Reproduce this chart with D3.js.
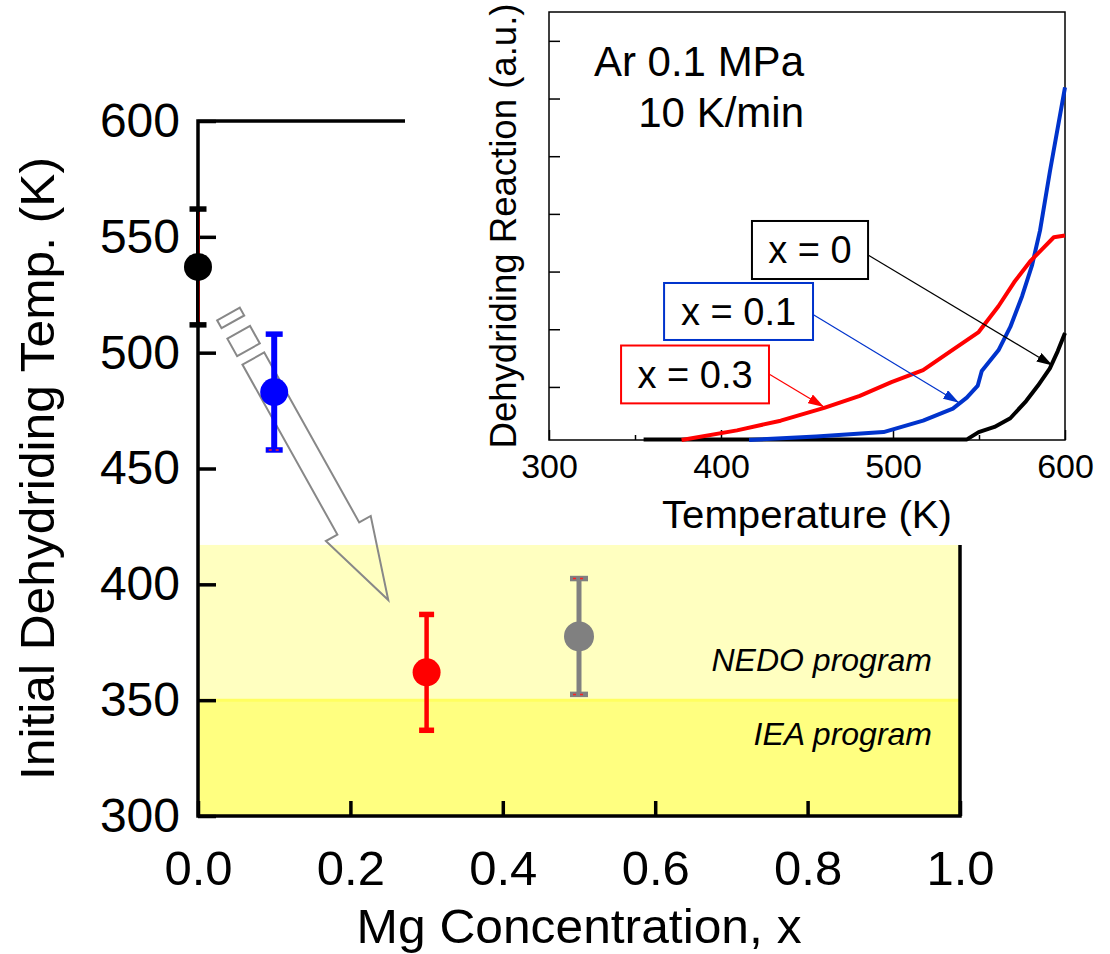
<!DOCTYPE html>
<html><head><meta charset="utf-8">
<script src="https://cdn.jsdelivr.net/npm/d3@7"></script>
<style>
html,body{margin:0;padding:0;background:#fff;}
svg{display:block;font-family:"Liberation Sans",Arial,Helvetica,sans-serif;}
</style></head><body>
<svg id="chart" width="1110" height="954"></svg>
<script>
// ---- Main panel: initial dehydriding temperature vs Mg content ----
const mgContent = [0, 0.1, 0.3, 0.5];
const onsetTemp = [537, 483, 362, 377.5];
const onsetErr = [25, 25, 25, 25];
const pointColors = ["#000000", "#0000ff", "#ff0000", "#808080"];
const tempTicks = [300, 350, 400, 450, 500, 550, 600];
const mgTicks = [0, 0.2, 0.4, 0.6, 0.8, 1.0];

// Target temperature bands
const bandNames = ["IEA program", "NEDO program"];
const bandLow = [300, 350];
const bandHigh = [350, 417];
const bandColors = ["#ffff80", "#ffffc0"];
const bandCaptionTemp = [330.6, 362.6];

// Trend arrow (Mg content, temperature)
const trendFrom = [0.04, 516.7];
const trendTo = [0.2497, 393.2];

// ---- Inset: dehydriding curves, Ar 0.1 MPa, 10 K/min ----
const insetSeries = ["x = 0", "x = 0.1", "x = 0.3"];
const insetColors = ["#000000", "#0033cc", "#ff0000"];
const curveT0 = [355, 543, 549.8, 559, 568.2, 577.4, 584.3, 591.2, 595.8, 600];
const curveR0 = [0.09, 0.09, 0.217, 0.307, 0.457, 0.755, 1.024, 1.323, 1.622, 1.933];
const curveT1 = [416.3, 455.4, 494.5, 517.5, 534.8, 542.9, 549.3, 551.6, 561.3, 568.2, 575.1, 580.9, 585.5, 591.2, 600];
const curveR1 = [0.08, 0.14, 0.217, 0.415, 0.624, 0.815, 1.024, 1.275, 1.634, 2.04, 2.578, 3.116, 3.714, 4.73, 6.195];
const curveT3 = [377.1, 409.3, 434.7, 460, 480.7, 499.1, 517.5, 533.6, 549.8, 561.3, 570.5, 579.7, 586.6, 593.5, 600];
const curveR3 = [0.08, 0.247, 0.415, 0.636, 0.845, 1.084, 1.293, 1.622, 1.951, 2.399, 2.818, 3.176, 3.385, 3.595, 3.624];
const insetTempTicks = [300, 400, 500, 600];
const insetMinorTicks = [350, 450, 550];
const insetReactTicks = [1, 2, 3, 4, 5, 6, 7];

// Label boxes and pointers (temperature, reaction units)
const boxT0 = [418, 366.9, 341.9];
const boxT1 = [485.5, 453.5, 427.9];
const boxR0 = [2.871, 1.814, 0.715];
const boxR1 = [3.877, 2.802, 1.718];
const pointerTailT = [485.5, 453.5, 427.9];
const pointerTailR = [3.287, 2.256, 1.224];
const pointerTipT = [592.8, 538.4, 459.9];
const pointerTipR = [1.372, 0.725, 0.652];

const svg = d3.select("#chart");

// ---------- main panel ----------
const x = d3.scaleLinear().domain([0, 1]).range([198, 960]);
const y = d3.scaleLinear().domain([300, 600]).range([816, 121]);

const bands = svg.append("g");
bandNames.forEach((name, i) => {
  bands.append("rect")
    .attr("x", x(0)).attr("width", x(1) - x(0))
    .attr("y", y(bandHigh[i])).attr("height", y(bandLow[i]) - y(bandHigh[i]))
    .attr("fill", bandColors[i]);
});
// thin bright edge between bands
bands.append("line")
  .attr("x1", x(0)).attr("x2", x(1))
  .attr("y1", y(bandHigh[0])).attr("y2", y(bandHigh[0]))
  .attr("stroke", "#ffff60").attr("stroke-width", 3);

// band captions
bandNames.forEach((name, i) => {
  svg.append("text")
    .attr("x", 932).attr("y", y(bandCaptionTemp[i]))
    .attr("text-anchor", "end")
    .attr("font-style", "italic")
    .attr("font-size", 32)
    .text(name);
});

// axes
const yAxis = d3.axisLeft(y).tickValues(tempTicks).tickSizeInner(-18).tickSizeOuter(0).tickPadding(18);
const gy = svg.append("g").attr("transform", `translate(${x(0)},0)`).call(yAxis);
gy.select(".domain").remove();
gy.selectAll(".tick line").attr("stroke", "#000").attr("stroke-width", 3.5);
gy.selectAll(".tick text").attr("font-size", 48).attr("fill", "#000").attr("font-family", "Liberation Sans, Arial, sans-serif");

const xAxis = d3.axisBottom(x).tickValues(mgTicks).tickFormat(d3.format(".1f")).tickSizeInner(-15).tickSizeOuter(0).tickPadding(34);
const gx = svg.append("g").attr("transform", `translate(0,${y(300)})`).call(xAxis);
gx.select(".domain").remove();
gx.selectAll(".tick line").attr("stroke", "#000").attr("stroke-width", 3.5);
gx.selectAll(".tick text").attr("font-size", 49).attr("fill", "#000").attr("font-family", "Liberation Sans, Arial, sans-serif");

// frame
svg.append("rect")
  .attr("x", x(0)).attr("y", y(600))
  .attr("width", x(1) - x(0)).attr("height", y(300) - y(600))
  .attr("fill", "none").attr("stroke", "#000").attr("stroke-width", 3.5);

// axis titles
svg.append("text")
  .attr("transform", `translate(54,${(y(300) + y(600)) / 2}) rotate(-90)`)
  .attr("text-anchor", "middle").attr("font-size", 49)
  .attr("textLength", 623).attr("lengthAdjust", "spacingAndGlyphs")
  .text("Initial Dehydriding Temp. (K)");
svg.append("text")
  .attr("x", (x(0) + x(1)) / 2).attr("y", 943)
  .attr("text-anchor", "middle").attr("font-size", 48)
  .attr("textLength", 445).attr("lengthAdjust", "spacingAndGlyphs")
  .text("Mg Concentration, x");

// trend arrow (hollow, with two leading dashes)
{
  const p0 = [x(trendFrom[0]), y(trendFrom[1])];
  const p1 = [x(trendTo[0]), y(trendTo[1])];
  const L = Math.hypot(p1[0] - p0[0], p1[1] - p0[1]);
  const ang = Math.atan2(p1[1] - p0[1], p1[0] - p0[0]) * 180 / Math.PI;
  const hw = 12.5, headW = 25.7, headL = 82;
  const d = [
    `M0,-13H9V13H0Z`,
    `M21,-13H41V13H21Z`,
    `M51,${-hw}H${L - headL}V${-headW}L${L},0L${L - headL},${headW}V${hw}H51Z`
  ].join("");
  svg.append("path")
    .attr("transform", `translate(${p0[0]},${p0[1]}) rotate(${ang})`)
    .attr("d", d)
    .attr("fill", "none").attr("stroke", "#888").attr("stroke-width", 2);
}

// error bars + points
const capW = [17, 17, 15, 18];
const barW = [4, 6, 4.5, 5];
mgContent.forEach((m, i) => {
  const cx = x(m), c = pointColors[i];
  const top = y(onsetTemp[i] + onsetErr[i]), bot = y(onsetTemp[i] - onsetErr[i]);
  const g = svg.append("g");
  g.append("line").attr("x1", cx).attr("x2", cx).attr("y1", top).attr("y2", bot)
    .attr("stroke", c).attr("stroke-width", barW[i]);
  [top, bot].forEach(yy => {
    g.append("line").attr("x1", cx - capW[i] / 2).attr("x2", cx + capW[i] / 2)
      .attr("y1", yy).attr("y2", yy).attr("stroke", c).attr("stroke-width", 5.5);
  });
  if (i === 0) {
    g.append("line").attr("x1", cx + 1.5).attr("x2", cx + 1.5).attr("y1", top + 3).attr("y2", bot - 3)
      .attr("stroke", "#8b0000").attr("stroke-width", 1);
  }
  // red dash marks inside some caps
  const dashed = i === 1 ? [bot] : i === 3 ? [top, bot] : [];
  dashed.forEach(yy => {
    g.append("line").attr("x1", cx - capW[i] / 2 + 3).attr("x2", cx + capW[i] / 2 - 3)
      .attr("y1", yy).attr("y2", yy).attr("stroke", "#ff2020").attr("stroke-width", 1.5)
      .attr("stroke-dasharray", "3,4");
  });
  g.append("circle").attr("cx", cx).attr("cy", y(onsetTemp[i]))
    .attr("r", i === 3 ? 15 : 14).attr("fill", c);
});

// ---------- inset ----------
svg.append("rect").attr("x", 405).attr("y", 0).attr("width", 705).attr("height", 545).attr("fill", "#fff");

const ix = d3.scaleLinear().domain([300, 600]).range([549, 1065]);
const iy = d3.scaleLinear().domain([0.08, 7.5]).range([440, 12]);

const inset = svg.append("g");
inset.append("rect").attr("x", ix(300)).attr("y", iy(7.5))
  .attr("width", ix(600) - ix(300)).attr("height", iy(0.08) - iy(7.5))
  .attr("fill", "none").attr("stroke", "#000").attr("stroke-width", 1.5);

const ixAxis = d3.axisBottom(ix).tickValues(insetTempTicks).tickSizeInner(-10).tickSizeOuter(0).tickPadding(14);
const gix = inset.append("g").attr("transform", `translate(0,${iy(0.08)})`).call(ixAxis);
gix.select(".domain").remove();
gix.selectAll(".tick line").attr("stroke", "#000").attr("stroke-width", 1.5);
gix.selectAll(".tick text").attr("font-size", 34).attr("fill", "#000").attr("font-family", "Liberation Sans, Arial, sans-serif");
const ixMinor = d3.axisBottom(ix).tickValues(insetMinorTicks).tickSizeInner(-5).tickSizeOuter(0).tickFormat("");
const gixm = inset.append("g").attr("transform", `translate(0,${iy(0.08)})`).call(ixMinor);
gixm.select(".domain").remove();
gixm.selectAll(".tick line").attr("stroke", "#000").attr("stroke-width", 1.5);

const iyAxis = d3.axisLeft(iy).tickValues(insetReactTicks).tickSizeInner(-11).tickSizeOuter(0).tickFormat("");
const giy = inset.append("g").attr("transform", `translate(${ix(300)},0)`).call(iyAxis);
giy.select(".domain").remove();
giy.selectAll(".tick line").attr("stroke", "#000").attr("stroke-width", 1.5);

inset.append("text")
  .attr("x", (ix(300) + ix(600)) / 2).attr("y", 528)
  .attr("text-anchor", "middle").attr("font-size", 38)
  .attr("textLength", 290).attr("lengthAdjust", "spacingAndGlyphs")
  .text("Temperature (K)");
inset.append("text")
  .attr("transform", `translate(516,${(iy(0.08) + iy(7.5)) / 2}) rotate(-90)`)
  .attr("text-anchor", "middle").attr("font-size", 36)
  .attr("textLength", 445).attr("lengthAdjust", "spacingAndGlyphs")
  .text("Dehydriding Reaction (a.u.)");
inset.append("text").attr("x", 804).attr("y", 76).attr("text-anchor", "end")
  .attr("font-size", 42).text("Ar 0.1 MPa");
inset.append("text").attr("x", 804).attr("y", 127).attr("text-anchor", "end")
  .attr("font-size", 42).text("10 K/min");

// curves
const line = d3.line().x(d => ix(d[0])).y(d => iy(d[1]));
const curvesT = [curveT0, curveT1, curveT3];
const curvesR = [curveR0, curveR1, curveR3];
insetSeries.forEach((s, i) => {
  inset.append("path")
    .datum(curvesT[i].map((t, k) => [t, curvesR[i][k]]))
    .attr("d", line)
    .attr("fill", "none").attr("stroke", insetColors[i])
    .attr("stroke-width", 4).attr("stroke-linejoin", "round");
});

// arrowhead markers
const defs = svg.append("defs");
insetColors.forEach((c, i) => {
  defs.append("marker").attr("id", "head" + i)
    .attr("viewBox", "0 0 16 10").attr("refX", 16).attr("refY", 5)
    .attr("markerWidth", 16).attr("markerHeight", 10)
    .attr("markerUnits", "userSpaceOnUse").attr("orient", "auto")
    .append("path").attr("d", "M0,0L16,5L0,10Z").attr("fill", c);
});

// label boxes with pointers
insetSeries.forEach((s, i) => {
  const c = insetColors[i];
  inset.append("line")
    .attr("x1", ix(pointerTailT[i])).attr("y1", iy(pointerTailR[i]))
    .attr("x2", ix(pointerTipT[i])).attr("y2", iy(pointerTipR[i]))
    .attr("stroke", c).attr("stroke-width", 1.2)
    .attr("marker-end", `url(#head${i})`);
  const bx = ix(boxT0[i]), by = iy(boxR1[i]);
  const bw = ix(boxT1[i]) - bx, bh = iy(boxR0[i]) - by;
  inset.append("rect").attr("x", bx).attr("y", by).attr("width", bw).attr("height", bh)
    .attr("fill", "#fff").attr("stroke", c).attr("stroke-width", 2);
  inset.append("text").attr("x", bx + bw / 2).attr("y", by + bh / 2 + 13.5)
    .attr("text-anchor", "middle").attr("font-size", 38).text(s);
});
</script>
</body></html>
